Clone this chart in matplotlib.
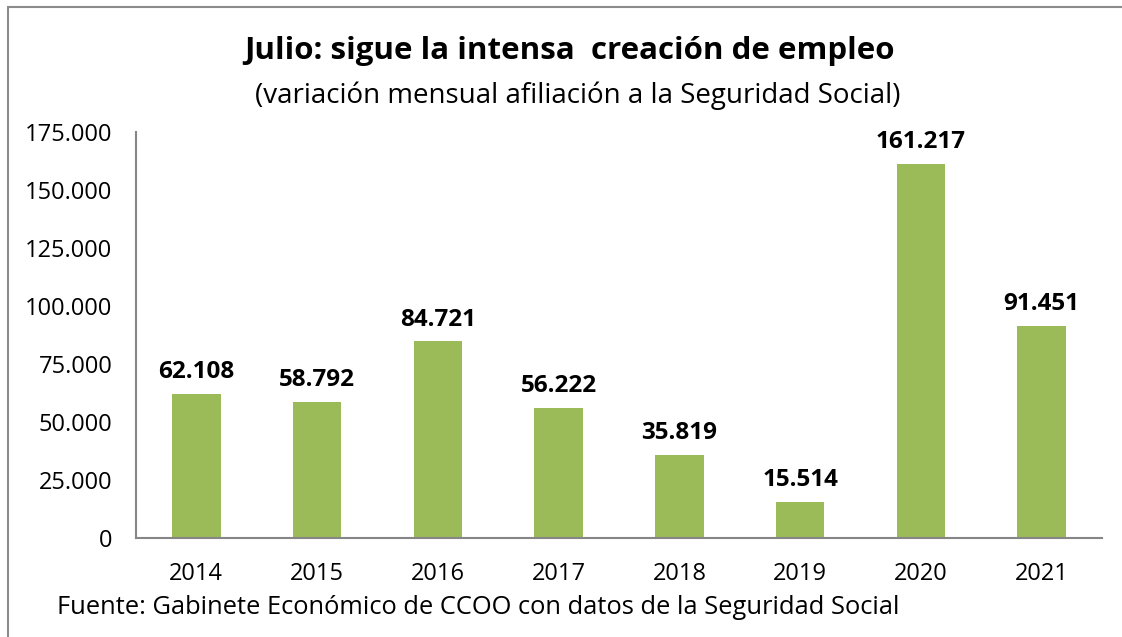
import matplotlib.pyplot as plt
from matplotlib.patches import Rectangle
from matplotlib.ticker import FuncFormatter

years = ["2014", "2015", "2016", "2017", "2018", "2019", "2020", "2021"]
values = [62108, 58792, 84721, 56222, 35819, 15514, 161217, 91451]
yticks = [0, 25000, 50000, 75000, 100000, 125000, 150000, 175000]

plt.rcParams["font.family"] = ["Open Sans", "DejaVu Sans"]

def es(v):
    return f"{v:,.0f}".replace(",", ".")

fig = plt.figure(figsize=(11.22, 6.37), dpi=100)
fig.patches.append(Rectangle((8/1122, -0.1), 1.2, 1 - 7/637 + 0.1, transform=fig.transFigure,
                             fill=False, edgecolor="#8c8c8c", linewidth=1.5))

ax = fig.add_axes([136/1122, 1 - 538/637, (1102 - 136)/1122, 406/637])
x = range(len(years))
ax.bar(x, values, width=0.4, color="#9BBB59")
for xi, v in zip(x, values):
    ax.annotate(es(v), (xi, v), xytext=(0, 7), textcoords="offset points",
                ha="center", va="bottom", fontsize=17.5, fontweight="bold")

ax.set_xlim(-0.5, len(years) - 0.5)
ax.set_ylim(0, 175000)
ax.set_yticks(yticks)
ax.yaxis.set_major_formatter(FuncFormatter(lambda v, p: es(v)))
ax.set_xticks(list(x))
ax.set_xticklabels(years)
ax.tick_params(axis="both", length=0, labelsize=17)
ax.tick_params(axis="y", pad=17)
ax.tick_params(axis="x", pad=17)
for s in ["top", "right"]:
    ax.spines[s].set_visible(False)
for s in ["left", "bottom"]:
    ax.spines[s].set_color("#868686")
    ax.spines[s].set_linewidth(1.5)

fig.text(570/1122, 1 - 51/637, "Julio: sigue la intensa  creación de empleo",
         ha="center", va="center", fontsize=22.5, fontweight="bold")
fig.text(578/1122, 1 - 96/637, "(variación mensual afiliación a la Seguridad Social)",
         ha="center", va="center", fontsize=20)
fig.text(57/1122, 1 - 607/637, "Fuente: Gabinete Económico de CCOO con datos de la Seguridad Social",
         ha="left", va="center", fontsize=18.4)

fig.savefig("out.png", dpi=100)
